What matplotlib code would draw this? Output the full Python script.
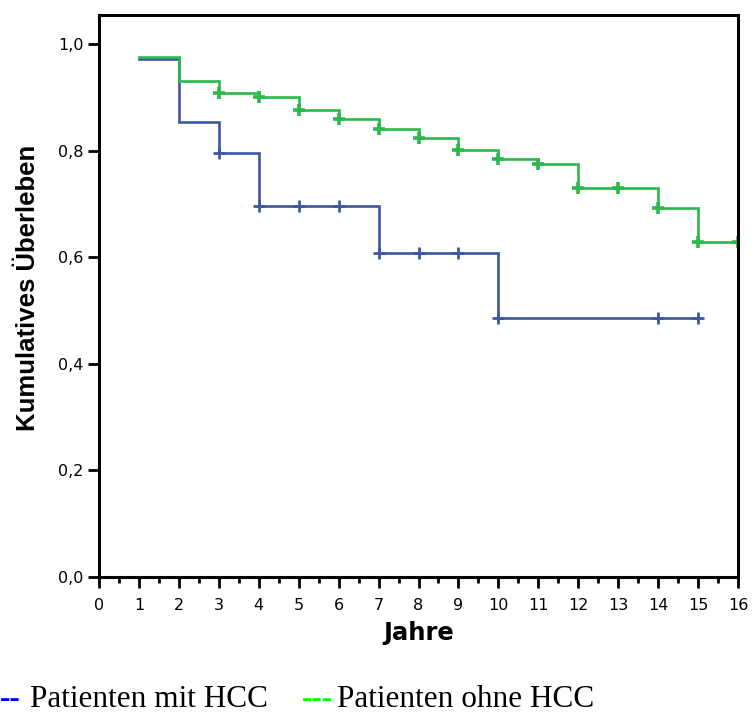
import numpy as np
import matplotlib
matplotlib.use("Agg")
import matplotlib.pyplot as plt
from matplotlib.ticker import FixedLocator

# Kaplan-Meier estimates (years, cumulative survival)
hcc_times = [1, 2, 3, 4, 7, 10, 15]
hcc_surv = [0.972, 0.854, 0.795, 0.696, 0.608, 0.486, 0.486]
hcc_censored = [3, 4, 5, 6, 7, 8, 9, 10, 14, 15]

nohcc_times = [1, 2, 3, 4, 5, 6, 7, 8, 9, 10, 11, 12, 14, 15, 16]
nohcc_surv = [0.975, 0.931, 0.909, 0.900, 0.877, 0.859, 0.841, 0.823,
              0.802, 0.785, 0.774, 0.729, 0.692, 0.628, 0.628]
nohcc_censored = [3, 4, 5, 6, 7, 8, 9, 10, 11, 12, 13, 14, 15, 16]

y_ticks = [0.0, 0.2, 0.4, 0.6, 0.8, 1.0]
y_tick_labels = ["0,0", "0,2", "0,4", "0,6", "0,8", "1,0"]
x_ticks = list(range(0, 17))

legend_labels = ["Patienten mit HCC", "Patienten ohne HCC"]

BLUE = "#3d56a6"
GREEN = "#2db84b"


def surv_at(times, surv, t):
    idx = np.searchsorted(np.asarray(times), t, side="right") - 1
    return np.asarray(surv)[idx]


fig = plt.figure(figsize=(7.52, 7.13), dpi=100)
ax = fig.add_axes([99 / 752, 1 - 577 / 713, (738 - 99) / 752, (577 - 15) / 713])

for times, surv, cens, col, mew in [
    (hcc_times, hcc_surv, hcc_censored, BLUE, 2.0),
    (nohcc_times, nohcc_surv, nohcc_censored, GREEN, 2.6),
]:
    ax.step(times, surv, where="post", color=col, lw=1.9, solid_joinstyle="miter")
    ax.plot(cens, surv_at(times, surv, cens), linestyle="none", marker="+",
            ms=9, mew=mew, color=col)

ax.set_xlim(0, 16)
ax.set_ylim(0, 562 / 533)

ax.set_yticks(y_ticks)
ax.set_yticklabels(y_tick_labels)
ax.set_xticks(x_ticks)
ax.xaxis.set_minor_locator(FixedLocator([x + 0.5 for x in range(16)]))

for s in ax.spines.values():
    s.set_linewidth(2.2)
    s.set_color("black")

ax.tick_params(axis="both", which="major", direction="out", length=8, width=2,
               labelsize=11.5, colors="black")
ax.tick_params(axis="x", which="minor", direction="out", length=4.5, width=2)
ax.tick_params(axis="x", which="major", pad=7)
ax.tick_params(axis="y", which="major", pad=3)
for lab in ax.get_xticklabels() + ax.get_yticklabels():
    lab.set_family("DejaVu Sans")

ax.set_xlabel("Jahre", family="DejaVu Sans", fontweight="bold", fontsize=17.5,
              labelpad=6)
ax.set_ylabel("Kumulatives Überleben", family="Liberation Sans",
              fontweight="bold", fontsize=18.5)
ax.yaxis.set_label_coords(-0.093, 0.515)

# Legend line below the chart
fs = 22.5
base = 1 - 707 / 713
fig.text(0 / 752, base, "--", color="#0000ff", family="Liberation Serif",
         fontsize=fs, fontweight="bold", va="baseline", ha="left")
fig.text(30 / 752, base, legend_labels[0], color="black",
         family="Liberation Serif", fontsize=fs, va="baseline", ha="left")
fig.text(302 / 752, base, "---", color="#00ff00", family="Liberation Serif",
         fontsize=fs, fontweight="bold", va="baseline", ha="left")
fig.text(337 / 752, base, legend_labels[1], color="black",
         family="Liberation Serif", fontsize=fs, va="baseline", ha="left")

fig.savefig("out.png", dpi=100)
